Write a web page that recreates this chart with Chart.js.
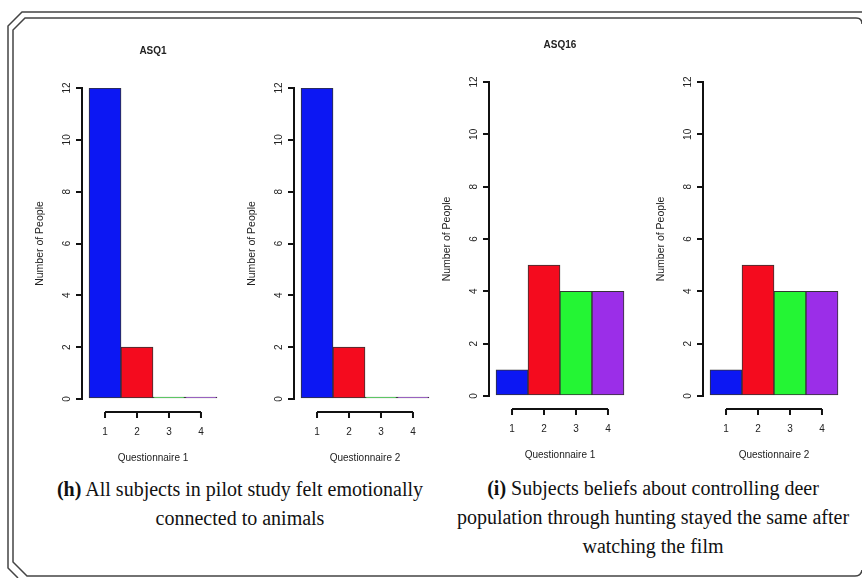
<!DOCTYPE html>
<html>
<head>
<meta charset="utf-8">
<script src="https://cdn.jsdelivr.net/npm/chart.js@4.4.1/dist/chart.umd.min.js"></script>
<style>
  body { margin: 0; background: #fff; }
  #page { position: relative; width: 862px; height: 578px; overflow: hidden; background: #fff; }
  canvas { position: absolute; }
  .caption {
    position: absolute; width: 460px; text-align: center;
    font-family: "Liberation Serif", "Times New Roman", serif;
    font-size: 20px; line-height: 29px; color: #111;
  }
  #frame { position: absolute; left: 0; top: 0; }
</style>
</head>
<body>
<div id="page">
  <svg id="frame" width="862" height="578">
    <path d="M862 12 L22 12 L8 26 L8 568 L18 578" fill="none" stroke="#444" stroke-width="1.5"/>
    <path d="M862 24 Q862 18 856 18 L25 18 L13 30 L13 562 L27 576 L855 576 Q861 576 862 570" fill="none" stroke="#444" stroke-width="1.5"/>
  </svg>
  <canvas id="c1"></canvas>
  <canvas id="c2"></canvas>
  <canvas id="c3"></canvas>
  <canvas id="c4"></canvas>
  <div class="caption" style="left:10px; top:475px;"><b>(h)</b> All subjects in pilot study felt emotionally<br>connected to animals</div>
  <div class="caption" style="left:423px; top:474px;"><b>(i)</b> Subjects beliefs about controlling deer<br>population through hunting stayed the same after<br>watching the film</div>
</div>
<script>
// answer options 1..4 on the x axis
const xTicks = [1, 2, 3, 4];
const yTicks = [0, 2, 4, 6, 8, 10, 12];

// ASQ1: felt emotionally connected to animals
const asq1Q1 = [12, 2, 0, 0];
const asq1Q2 = [12, 2, 0, 0];

// ASQ16: controlling deer population through hunting
const asq16Q1 = [1, 5, 4, 4];
const asq16Q2 = [1, 5, 4, 4];

const barColors = ["#0c17f3", "#f40b1e", "#24f534", "#9b2ee8"];

const font = "'Liberation Sans', Arial, sans-serif";
const ink = "#222";

// R style axis under the bars: a line from first to last tick, ticks pointing down
const bracketPlugin = {
  id: "bracket",
  afterDraw(chart) {
    const xs = chart.scales.x;
    const ctx = chart.ctx;
    const y0 = chart.chartArea.bottom + 13;
    ctx.save();
    ctx.strokeStyle = "#111";
    ctx.lineWidth = 2;
    ctx.beginPath();
    ctx.moveTo(xs.getPixelForValue(xTicks[0]), y0);
    ctx.lineTo(xs.getPixelForValue(xTicks[xTicks.length - 1]), y0);
    xTicks.forEach(v => {
      const px = xs.getPixelForValue(v);
      ctx.moveTo(px, y0);
      ctx.lineTo(px, y0 + 6);
    });
    ctx.stroke();
    ctx.restore();
  }
};

const YW = 50, TOP = 50, XH = 69, RIGHT = 4, AREA_W = 142;

function makePanel(id, values, title, xTitle, left, top, bottom) {
  const el = document.getElementById(id);
  const w = YW + AREA_W + RIGHT;
  const h = TOP + (bottom - top) + XH;
  el.width = w;
  el.height = h;
  el.style.left = (left - YW) + "px";
  el.style.top = (top - TOP) + "px";

  new Chart(el, {
    type: "bar",
    data: {
      datasets: [{
        data: values.map((v, i) => ({ x: xTicks[i], y: v })),
        backgroundColor: barColors,
        borderColor: "#333",
        borderWidth: 1,
        borderSkipped: false,
        barPercentage: 1,
        categoryPercentage: 1,
        minBarLength: 2
      }]
    },
    options: {
      responsive: false,
      animation: false,
      layout: { padding: { top: title ? 0 : TOP, right: RIGHT, left: 0, bottom: 0 } },
      plugins: {
        legend: { display: false },
        tooltip: { enabled: false },
        title: {
          display: !!title,
          text: title,
          fullSize: false,
          color: ink,
          font: { family: font, size: 10, weight: "bold" },
          padding: { top: 7, bottom: 31 }
        }
      },
      scales: {
        x: {
          type: "linear",
          offset: false,
          min: 0.28,
          max: 4.72,
          afterBuildTicks: s => { s.ticks = xTicks.map(v => ({ value: v })); },
          afterFit: s => { s.height = XH; },
          // invisible tick marks only make room for the bracket above the labels
          grid: { display: true, offset: false, drawOnChartArea: false, drawTicks: true, tickLength: 27, color: "rgba(0,0,0,0)" },
          border: { display: false },
          ticks: { padding: 0, color: ink, maxRotation: 0, font: { family: font, size: 10 } },
          title: {
            display: true, text: xTitle, color: ink,
            font: { family: font, size: 10 },
            padding: { top: 0, bottom: 4 }
          }
        },
        y: {
          min: 0,
          max: 12,
          afterBuildTicks: s => { s.ticks = yTicks.map(v => ({ value: v })); },
          afterFit: s => { s.width = YW; },
          border: { display: true, color: "#111", width: 2 },
          grid: { drawOnChartArea: false, drawTicks: true, tickLength: 6, color: "#111", lineWidth: 2 },
          ticks: {
            minRotation: 90, maxRotation: 90, crossAlign: "center", padding: 3.4,
            color: ink, font: { family: font, size: 10 }
          },
          title: {
            display: true, text: "Number of People", color: ink,
            font: { family: font, size: 10.5 },
            padding: { top: 2.2, bottom: 0 }
          }
        }
      }
    },
    plugins: [bracketPlugin]
  });
}

makePanel("c1", asq1Q1, "ASQ1", "Questionnaire 1", 82, 88, 399);
makePanel("c2", asq1Q2, "", "Questionnaire 2", 294, 88, 399);
makePanel("c3", asq16Q1, "ASQ16", "Questionnaire 1", 489, 82, 396);
makePanel("c4", asq16Q2, "", "Questionnaire 2", 703, 82, 396);
</script>
</body>
</html>
